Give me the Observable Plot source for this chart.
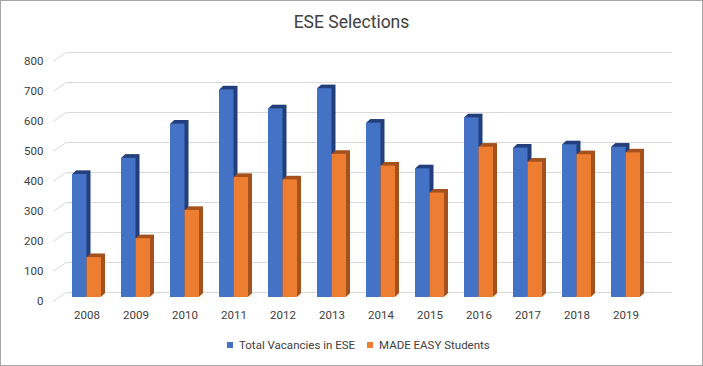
<!DOCTYPE html>
<html>
<head>
<meta charset="utf-8">
<script src="https://cdn.jsdelivr.net/npm/d3@7"></script>
<script src="https://cdn.jsdelivr.net/npm/@observablehq/plot@0.6"></script>
<style>
  html, body { margin: 0; padding: 0; background: #fff; }
  #wrap { position: relative; width: 703px; height: 366px; overflow: hidden; font-family: Roboto, sans-serif; color: #404040; }
  #border { position: absolute; left: 0; top: 0; right: 0; bottom: 0; border: 1px solid #a6a6a6; pointer-events: none; }
  #title { height: 40px; line-height: 44px; text-align: center; font-size: 17.5px; color: #404040; }
  #chart svg { display: block; }
  #legend { position: absolute; top: 337px; left: 0; width: 703px; font-size: 11.5px; color: #404040; }
  .item { position: absolute; top: 0; white-space: nowrap; line-height: 16px; }
  .sw { display: inline-block; width: 6px; height: 6px; margin-right: 6px; vertical-align: 1px; }
</style>
</head>
<body>
<div id="wrap">
  <div id="title">ESE Selections</div>
  <div id="chart"></div>
  <div id="legend"></div>
  <div id="border"></div>
</div>
<script>
const years = ["2008","2009","2010","2011","2012","2013","2014","2015","2016","2017","2018","2019"];
const vacancies = [410, 464, 578, 692, 629, 696, 581, 429, 599, 498, 509, 501];
const madeEasy = [133, 196, 290, 400, 392, 477, 438, 348, 501, 451, 476, 482];
const yTicks = [0, 100, 200, 300, 400, 500, 600, 700, 800];
const seriesNames = ["Total Vacancies in ESE", "MADE EASY Students"];
const seriesColors = ["#4472C4", "#ED7D31"];
const seriesDark = ["#223F7C", "#A5511E"];

const blueData = years.map((y, i) => ({year: y, value: vacancies[i]}));
const orangeData = years.map((y, i) => ({year: y, value: madeEasy[i]}));

const half = 14.5;
const depthSteps = [0.5, 1, 1.5, 2, 2.5, 3, 3.5, 4];

function extrude(data, color, side) {
  return depthSteps.map(k => Plot.barY(data, {
    x: "year", y: "value", fill: color,
    insetLeft: side === "right" ? half : 0,
    insetRight: side === "left" ? half : 0,
    dx: k, dy: -k * 0.9
  }));
}

const frontGrid = (index, scales, values, dimensions) => {
  const g = d3.create("svg:g").attr("stroke", "#d9d9d9").attr("stroke-width", 1);
  for (const t of yTicks) {
    const yy = scales.y(t);
    g.append("line")
      .attr("x1", dimensions.marginLeft).attr("y1", yy + 4.5)
      .attr("x2", dimensions.marginLeft + 14).attr("y2", yy - 5);
  }
  return g.node();
};

const chart = Plot.plot({
  width: 703,
  height: 290,
  marginLeft: 53,
  marginRight: 31,
  marginTop: 17,
  marginBottom: 33,
  style: {fontFamily: "Roboto, sans-serif", fontSize: "11.5px", color: "#404040", background: "transparent"},
  x: {domain: years, range: [58.25, 652.75], paddingInner: 0.414, paddingOuter: 0.207, label: null},
  y: {domain: [0, 800], label: null},
  marks: [
    Plot.ruleY(yTicks, {stroke: "#d9d9d9", insetLeft: 14, dy: -5}),
    frontGrid,
    ...extrude(blueData, seriesDark[0], "left"),
    Plot.barY(blueData, {x: "year", y: "value", fill: seriesColors[0], insetRight: half}),
    ...extrude(orangeData, seriesDark[1], "right"),
    Plot.barY(orangeData, {x: "year", y: "value", fill: seriesColors[1], insetLeft: half}),
    Plot.axisY({ticks: yTicks, tickSize: 0, tickPadding: 10, dy: 4.3, label: null, fill: "#404040"}),
    Plot.axisX({tickSize: 0, tickPadding: 13, label: null, fill: "#404040"})
  ]
});
document.getElementById("chart").appendChild(chart);

const legend = document.getElementById("legend");
const positions = [227, 367];
seriesNames.forEach((name, i) => {
  const el = document.createElement("div");
  el.className = "item";
  el.style.left = positions[i] + "px";
  el.innerHTML = `<span class="sw" style="background:${seriesColors[i]}"></span>${name}`;
  legend.appendChild(el);
});
</script>
</body>
</html>
